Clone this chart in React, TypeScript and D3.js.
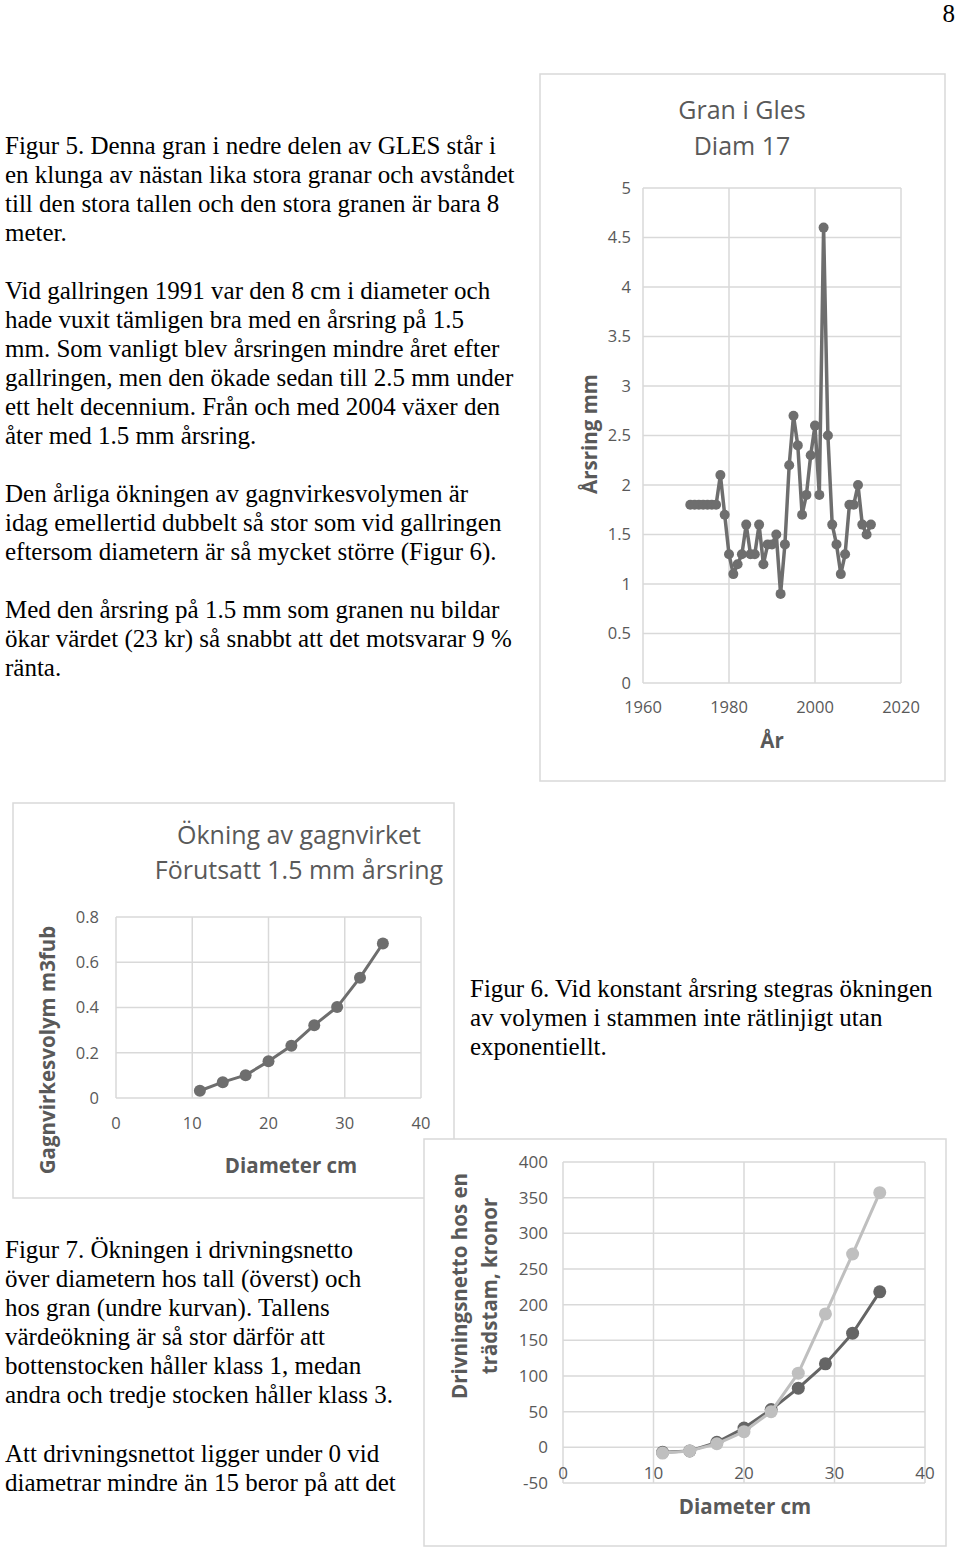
import React from "react";
import * as d3 from "d3";

// ---- page text ----
const para1 = [
    "Figur 5. Denna gran i nedre delen av GLES står i",
    "en klunga av nästan lika stora granar och avståndet",
    "till den stora tallen och den stora granen är bara 8",
    "meter.",
];
const para2 = [
    "Vid gallringen 1991 var den 8 cm i diameter och",
    "hade vuxit tämligen bra med en årsring på 1.5",
    "mm. Som vanligt blev årsringen mindre året efter",
    "gallringen, men den ökade sedan till 2.5 mm under",
    "ett helt decennium. Från och med 2004 växer den",
    "åter med 1.5 mm årsring.",
];
const para3 = [
    "Den årliga ökningen av gagnvirkesvolymen är",
    "idag emellertid dubbelt så stor som vid gallringen",
    "eftersom diametern är så mycket större (Figur 6).",
];
const para4 = [
    "Med den årsring på 1.5 mm som granen nu bildar",
    "ökar värdet (23 kr) så snabbt att det motsvarar 9 %",
    "ränta.",
];
const fig6Caption = [
    "Figur 6. Vid konstant årsring stegras ökningen",
    "av volymen i stammen inte rätlinjigt utan",
    "exponentiellt.",
];
const fig7Caption = [
    "Figur 7. Ökningen i drivningsnetto",
    "över diametern hos tall (överst) och",
    "hos gran (undre kurvan). Tallens",
    "värdeökning är så stor därför att",
    "bottenstocken håller klass 1, medan",
    "andra och tredje stocken håller klass 3.",
];
const para5 = [
    "Att drivningsnettot ligger under 0 vid",
    "diametrar mindre än 15 beror på att det",
];

// ---- chart 1: Gran i Gles ----
const ringYears = [
    1971, 1972, 1973, 1974, 1975, 1976, 1977, 1978, 1979, 1980,
    1981, 1982, 1983, 1984, 1985, 1986, 1987, 1988, 1989, 1990,
    1991, 1992, 1993, 1994, 1995, 1996, 1997, 1998, 1999, 2000,
    2001, 2002, 2003, 2004, 2005, 2006, 2007, 2008, 2009, 2010,
    2011, 2012, 2013,
];
const ringWidth = [
    1.8, 1.8, 1.8, 1.8, 1.8, 1.8, 1.8, 2.1, 1.7, 1.3,
    1.1, 1.2, 1.3, 1.6, 1.3, 1.3, 1.6, 1.2, 1.4, 1.4,
    1.5, 0.9, 1.4, 2.2, 2.7, 2.4, 1.7, 1.9, 2.3, 2.6,
    1.9, 4.6, 2.5, 1.6, 1.4, 1.1, 1.3, 1.8, 1.8, 2.0,
    1.6, 1.5, 1.6,
];
const ringXTicks = [1960, 1980, 2000, 2020];
const ringYTicks = [0, 0.5, 1, 1.5, 2, 2.5, 3, 3.5, 4, 4.5, 5];

// ---- chart 2: Ökning av gagnvirket ----
const volDiam = [11, 14, 17, 20, 23, 26, 29, 32, 35];
const volValue = [0.032, 0.07, 0.101, 0.162, 0.231, 0.322, 0.402, 0.532, 0.683];
const volXTicks = [0, 10, 20, 30, 40];
const volYTicks = [0, 0.2, 0.4, 0.6, 0.8];

// ---- chart 3: Drivningsnetto ----
const netDiam = [11, 14, 17, 20, 23, 26, 29, 32, 35];
const netGran = [-7, -5, 7, 27, 53, 83, 117, 160, 218];
const netTall = [-8, -5, 5, 22, 50, 104, 187, 271, 357];
const netXTicks = [0, 10, 20, 30, 40];
const netYTicks = [-50, 0, 50, 100, 150, 200, 250, 300, 350, 400];

const SERIF = "'Liberation Serif', 'Times New Roman', serif";
const SANS = "'Open Sans', 'Noto Sans', sans-serif";
const GRID = "#d9d9d9";
const LABEL = "#595959";

function Lines({ lines, x, y }: { lines: string[]; x: number; y: number }) {
    return (
        <text fontFamily={SERIF} fontSize={25} fill="#000">
            {lines.map((l, i) => (
                <tspan key={i} x={x} y={y + i * 29}>{l}</tspan>
            ))}
        </text>
    );
}

type Series = { x: number[]; y: number[]; color: string; r: number; width: number };

function LineChart(props: {
    xDomain: [number, number];
    yDomain: [number, number];
    xRange: [number, number];
    yRange: [number, number];
    xTicks: number[];
    yTicks: number[];
    xLabelY: number;
    yLabelGap: number;
    tickSize: number;
    series: Series[];
}) {
    const { xDomain, yDomain, xRange, yRange, xTicks, yTicks, xLabelY, yLabelGap, tickSize, series } = props;
    const x = d3.scaleLinear().domain(xDomain).range(xRange);
    const y = d3.scaleLinear().domain(yDomain).range(yRange);
    const line = d3.line<[number, number]>().x(d => x(d[0])).y(d => y(d[1]));

    return (
        <g>
            {yTicks.map(t => (
                <line key={"h" + t} x1={xRange[0]} x2={xRange[1]} y1={y(t)} y2={y(t)} stroke={GRID} strokeWidth={1.5} />
            ))}
            {xTicks.map(t => (
                <line key={"v" + t} x1={x(t)} x2={x(t)} y1={yRange[0]} y2={yRange[1]} stroke={GRID} strokeWidth={1.5} />
            ))}
            {yTicks.map(t => (
                <text key={"yl" + t} x={xRange[0] - yLabelGap} y={y(t) + tickSize * 0.36} textAnchor="end"
                    fontFamily={SANS} fontSize={tickSize} fill={LABEL}>{String(t)}</text>
            ))}
            {xTicks.map(t => (
                <text key={"xl" + t} x={x(t)} y={xLabelY} textAnchor="middle"
                    fontFamily={SANS} fontSize={tickSize} fill={LABEL}>{String(t)}</text>
            ))}
            {series.map((s, si) => {
                const pts = s.x.map((v, i) => [v, s.y[i]] as [number, number]);
                return (
                    <g key={si}>
                        <path d={line(pts) || ""} fill="none" stroke={s.color} strokeWidth={s.width} strokeLinejoin="round" />
                        {pts.map((p, i) => (
                            <circle key={i} cx={x(p[0])} cy={y(p[1])} r={s.r} fill={s.color} />
                        ))}
                    </g>
                );
            })}
        </g>
    );
}

export default function App() {
    return (
        <div style={{ position: "absolute", left: 0, top: 0 }}>
            <svg width={960} height={1547} style={{ display: "block", background: "#fff" }}>
                <text x={955} y={22} textAnchor="end" fontFamily={SERIF} fontSize={25}>8</text>

                <Lines lines={para1} x={5} y={154} />
                <Lines lines={para2} x={5} y={299} />
                <Lines lines={para3} x={5} y={502} />
                <Lines lines={para4} x={5} y={618} />
                <Lines lines={fig6Caption} x={470} y={997} />
                <Lines lines={fig7Caption} x={5} y={1258} />
                <Lines lines={para5} x={5} y={1462} />

                {/* chart 1 */}
                <rect x={540} y={74} width={405} height={707} fill="#fff" stroke={GRID} strokeWidth={1.5} />
                <text x={742} y={119} textAnchor="middle" fontFamily={SANS} fontSize={25} fill={LABEL}>Gran i Gles</text>
                <text x={742} y={155} textAnchor="middle" fontFamily={SANS} fontSize={25} fill={LABEL}>Diam 17</text>
                <LineChart
                    xDomain={[1960, 2020]} yDomain={[0, 5]}
                    xRange={[643, 901]} yRange={[683, 188]}
                    xTicks={ringXTicks} yTicks={ringYTicks}
                    xLabelY={713} yLabelGap={12} tickSize={16.5}
                    series={[{ x: ringYears, y: ringWidth, color: "#6e6e6e", r: 5, width: 3.5 }]}
                />
                <text transform="translate(597,434) rotate(-90)" textAnchor="middle" fontFamily={SANS}
                    fontWeight="bold" fontSize={20.5} fill={LABEL}>Årsring mm</text>
                <text x={772} y={748} textAnchor="middle" fontFamily={SANS} fontWeight="bold" fontSize={20.5} fill={LABEL}>År</text>

                {/* chart 2 */}
                <rect x={13} y={803} width={441} height={395} fill="#fff" stroke={GRID} strokeWidth={1.5} />
                <text x={299} y={844} textAnchor="middle" fontFamily={SANS} fontSize={25} fill={LABEL}>Ökning av gagnvirket</text>
                <text x={299} y={879} textAnchor="middle" fontFamily={SANS} fontSize={25} fill={LABEL}>Förutsatt 1.5 mm årsring</text>
                <LineChart
                    xDomain={[0, 40]} yDomain={[0, 0.8]}
                    xRange={[116, 421]} yRange={[1098, 917]}
                    xTicks={volXTicks} yTicks={volYTicks}
                    xLabelY={1129} yLabelGap={17} tickSize={16.5}
                    series={[{ x: volDiam, y: volValue, color: "#6e6e6e", r: 6, width: 3 }]}
                />
                <text transform="translate(55,1050) rotate(-90)" textAnchor="middle" fontFamily={SANS}
                    fontWeight="bold" fontSize={20.5} fill={LABEL}>Gagnvirkesvolym m3fub</text>
                <text x={291} y={1173} textAnchor="middle" fontFamily={SANS} fontWeight="bold" fontSize={20.5} fill={LABEL}>Diameter cm</text>

                {/* chart 3 */}
                <rect x={424} y={1139} width={522} height={407} fill="#fff" stroke={GRID} strokeWidth={1.5} />
                <LineChart
                    xDomain={[0, 40]} yDomain={[-50, 400]}
                    xRange={[563, 925]} yRange={[1483, 1162]}
                    xTicks={netXTicks} yTicks={netYTicks}
                    xLabelY={1479} yLabelGap={15} tickSize={17}
                    series={[
                        { x: netDiam, y: netGran, color: "#656565", r: 6.5, width: 3 },
                        { x: netDiam, y: netTall, color: "#bfbfbf", r: 6.5, width: 3 },
                    ]}
                />
                <text transform="translate(467,1286) rotate(-90)" textAnchor="middle" fontFamily={SANS}
                    fontWeight="bold" fontSize={20.5} fill={LABEL}>Drivningsnetto hos en</text>
                <text transform="translate(497,1286) rotate(-90)" textAnchor="middle" fontFamily={SANS}
                    fontWeight="bold" fontSize={20.5} fill={LABEL}>trädstam, kronor</text>
                <text x={745} y={1514} textAnchor="middle" fontFamily={SANS} fontWeight="bold" fontSize={20.5} fill={LABEL}>Diameter cm</text>
            </svg>
        </div>
    );
}
